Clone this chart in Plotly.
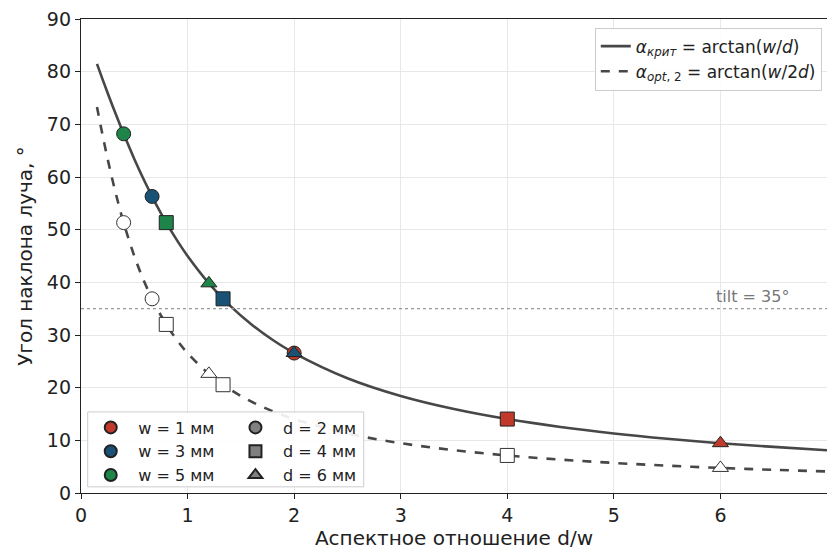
import plotly.graph_objects as go

# Curve samples (degrees) vs aspect ratio d/w
curve_x = [0.15, 0.2, 0.25, 0.3, 0.35, 0.4, 0.5, 0.6, 0.7, 0.8, 0.9, 1.0, 1.2, 1.4, 1.6, 1.8,
           2.0, 2.5, 3.0, 3.5, 4.0, 4.5, 5.0, 5.5, 6.0, 6.5, 7.0]
crit_y = [81.47, 78.69, 75.96, 73.30, 70.71, 68.20, 63.43, 59.04, 55.01, 51.34, 48.01, 45.00,
          39.81, 35.54, 32.01, 29.05, 26.57, 21.80, 18.43, 15.95, 14.04, 12.53, 11.31, 10.30,
          9.46, 8.75, 8.13]
opt_y = [73.30, 68.20, 63.43, 59.04, 55.01, 51.34, 45.00, 39.81, 35.54, 32.01, 29.05, 26.57,
         22.62, 19.65, 17.35, 15.52, 14.04, 11.31, 9.46, 8.13, 7.13, 6.34, 5.71, 5.19, 4.76,
         4.40, 4.09]

# Coloured points on the critical curve
w_labels = ["w = 1 мм", "w = 3 мм", "w = 5 мм"]
w_colors = ["#c0392b", "#1a5276", "#1e8449"]
d_labels = ["d = 2 мм", "d = 4 мм", "d = 6 мм"]
d_symbols = ["circle", "square", "triangle-up"]
pts_x = [[2.0, 4.0, 6.0], [0.667, 1.333, 2.0], [0.4, 0.8, 1.2]]
pts_y = [[26.57, 14.04, 9.46], [56.31, 36.87, 26.57], [68.20, 51.34, 39.81]]

# Hollow points on the optimal curve
open_x = [0.4, 0.667, 0.8, 1.2, 1.333, 4.0, 6.0]
open_y = [51.34, 36.87, 32.01, 22.62, 20.56, 7.13, 4.76]
open_sym = ["circle", "circle", "square", "triangle-up", "square", "square", "triangle-up"]

tilt = 35

LINE = "#474747"
fig = go.Figure()

fig.add_trace(go.Scatter(x=curve_x, y=crit_y, mode="lines", line=dict(color=LINE, width=2.6, shape="spline"),
                         name="<i>α</i><sub><i>крит</i></sub> = arctan(<i>w</i>/<i>d</i>)", legend="legend"))
fig.add_trace(go.Scatter(x=curve_x, y=opt_y, mode="lines",
                         line=dict(color=LINE, width=2.6, dash="dash", shape="spline"),
                         name="<i>α</i><sub><i>opt</i>, 2</sub> = arctan(<i>w</i>/2<i>d</i>)", legend="legend"))

fig.add_trace(go.Scatter(x=open_x, y=open_y, mode="markers", showlegend=False,
                         marker=dict(symbol=open_sym, size=14, color="white",
                                     line=dict(color="#333", width=1))))

for i in range(3):
    fig.add_trace(go.Scatter(x=pts_x[i], y=pts_y[i], mode="markers", showlegend=False,
                             marker=dict(symbol=d_symbols, size=14, color=w_colors[i],
                                         line=dict(color="#222", width=1))))

for i in range(3):
    fig.add_trace(go.Scatter(x=[None], y=[None], mode="markers", name=w_labels[i], legend="legend2",
                             marker=dict(symbol="circle", size=14, color=w_colors[i],
                                         line=dict(color="#222", width=1))))
for i in range(3):
    fig.add_trace(go.Scatter(x=[None], y=[None], mode="markers", name=d_labels[i], legend="legend3",
                             marker=dict(symbol=d_symbols[i], size=14, color="#808080",
                                         line=dict(color="#222", width=1))))

fig.add_hline(y=tilt, line=dict(color="#999", width=1.2, dash="dot"))
fig.add_annotation(x=6.66, y=tilt, xref="x", yref="y", text="tilt = 35°", showarrow=False,
                   xanchor="right", yanchor="bottom", yshift=1, font=dict(size=16, color="#777"))

# border/background for the two-column marker legend (covers the curves like an opaque legend)
fig.add_shape(type="rect", xref="paper", yref="paper", x0=0.009, x1=0.379, y0=0.013, y1=0.171,
              line=dict(color="#ccc", width=1), fillcolor="rgba(255,255,255,0.9)", layer="above")

legend_font = dict(family="DejaVu Sans", size=16, color="#222")
fig.update_layout(
    width=827, height=553,
    margin=dict(l=81, r=0, t=19, b=60),
    plot_bgcolor="white", paper_bgcolor="white",
    font=dict(family="DejaVu Sans", size=19, color="#222"),
    xaxis=dict(range=[0, 7], tickvals=[0, 1, 2, 3, 4, 5, 6, 7], showgrid=True, gridcolor="#e8e8e8",
               zeroline=False, showline=True, linecolor="#222", linewidth=1.3, mirror=True,
               ticks="outside", ticklen=5, tickcolor="#222", automargin=False,
               title=dict(text="Аспектное отношение d/w", font=dict(size=20), standoff=4)),
    yaxis=dict(range=[0, 90], tickvals=list(range(0, 91, 10)), showgrid=True, gridcolor="#e8e8e8",
               zeroline=False, showline=True, linecolor="#222", linewidth=1.3, mirror=True,
               ticks="outside", ticklen=5, tickcolor="#222", automargin=False,
               title=dict(text="Угол наклона луча, °", font=dict(size=20), standoff=8)),
    legend=dict(x=0.993, y=0.982, xanchor="right", yanchor="top", bgcolor="rgba(255,255,255,0.9)",
                bordercolor="#ccc", borderwidth=1, font=dict(family="DejaVu Sans", size=17, color="#222"),
                tracegroupgap=0),
    legend2=dict(x=0.003, y=0.174, xanchor="left", yanchor="top", bgcolor="rgba(0,0,0,0)",
                 borderwidth=0, font=legend_font, itemsizing="constant", itemwidth=45),
    legend3=dict(x=0.197, y=0.174, xanchor="left", yanchor="top", bgcolor="rgba(0,0,0,0)",
                 borderwidth=0, font=legend_font, itemsizing="constant", itemwidth=45),
)

fig.write_html("out.html", config={"displayModeBar": False},
               post_script="document.body.style.margin='0';document.body.style.overflow='hidden';")
